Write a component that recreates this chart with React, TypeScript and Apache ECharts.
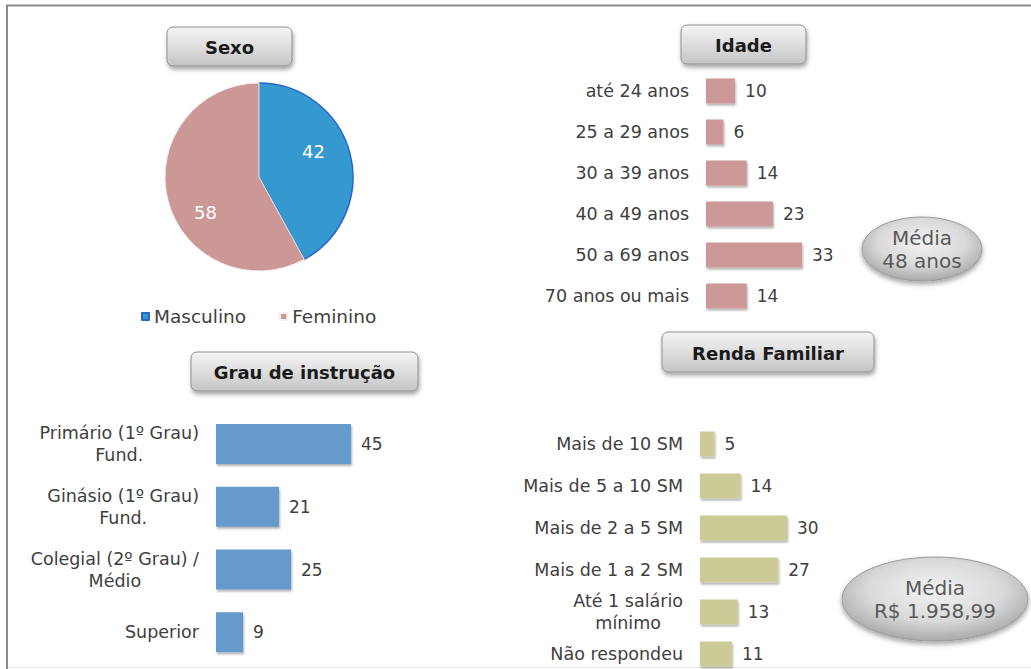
import React, { useEffect, useRef } from "react";
import * as echarts from "echarts";

const FONT = "'DejaVu Sans', Verdana, sans-serif";
const TXT = "#404040";

// Sexo
const sexoLabels = ["Masculino", "Feminino"];
const sexoValues = [42, 58];
const sexoColors = ["#3598cf", "#cc9896"];

// Idade
const idadeCats = ["até 24 anos", "25 a 29 anos", "30 a 39 anos", "40 a 49 anos", "50 a 69 anos", "70 anos ou mais"];
const idadeValues = [10, 6, 14, 23, 33, 14];

// Grau de instrução
const grauCats = ["Primário (1º Grau)\nFund.", "Ginásio (1º Grau)\nFund.", "Colegial (2º Grau) /\nMédio", "Superior"];
const grauValues = [45, 21, 25, 9];

// Renda Familiar
const rendaCats = ["Mais de 10 SM", "Mais de 5 a 10 SM", "Mais de 2 a 5 SM", "Mais de 1 a 2 SM", "Até 1 salário\nmínimo", "Não respondeu"];
const rendaValues = [5, 14, 30, 27, 13, 11];

const titles = [
  { text: "Sexo", x: 167, y: 27, w: 125, h: 39 },
  { text: "Idade", x: 681, y: 25, w: 125, h: 39 },
  { text: "Grau de instrução", x: 191, y: 352, w: 227, h: 39 },
  { text: "Renda Familiar", x: 662, y: 332, w: 212, h: 40 },
];

const medias = [
  { text: "Média\n48 anos", cx: 922, cy: 249, rx: 60, ry: 32 },
  { text: "Média\nR$ 1.958,99", cx: 935, cy: 599, rx: 93, ry: 42 },
];

function buttonGraphic(t: any) {
  return {
    type: "group",
    children: [
      {
        type: "rect",
        shape: { x: t.x, y: t.y, width: t.w, height: t.h, r: 6 },
        style: {
          fill: {
            type: "linear", x: 0, y: 0, x2: 0, y2: 1,
            colorStops: [
              { offset: 0, color: "#f4f4f4" },
              { offset: 0.5, color: "#dedede" },
              { offset: 1, color: "#c4c4c4" },
            ],
          },
          stroke: "#8f8f8f",
          lineWidth: 1,
          shadowBlur: 4,
          shadowOffsetY: 3,
          shadowOffsetX: 1,
          shadowColor: "rgba(0,0,0,0.35)",
        },
      },
      {
        type: "text",
        style: {
          text: t.text,
          x: t.x + t.w / 2,
          y: t.y + t.h / 2 + 1,
          align: "center",
          verticalAlign: "middle",
          font: `bold 18px ${FONT}`,
          fill: "#1a1a1a",
        },
      },
    ],
  };
}

function mediaGraphic(m: any) {
  return {
    type: "group",
    children: [
      {
        type: "ellipse",
        shape: { cx: m.cx, cy: m.cy, rx: m.rx, ry: m.ry },
        style: {
          fill: {
            type: "radial", x: 0.5, y: 0.4, r: 0.6,
            colorStops: [
              { offset: 0, color: "#f2f2f2" },
              { offset: 0.6, color: "#dadada" },
              { offset: 1, color: "#a9a9a9" },
            ],
          },
          stroke: "#9a9a9a",
          lineWidth: 1,
          shadowBlur: 5,
          shadowOffsetY: 3,
          shadowColor: "rgba(0,0,0,0.35)",
        },
      },
      {
        type: "text",
        style: {
          text: m.text,
          x: m.cx,
          y: m.cy,
          align: "center",
          verticalAlign: "middle",
          font: `20px ${FONT}`,
          lineHeight: 23,
          fill: "#595959",
        },
      },
    ],
  };
}

const barShadow = {
  shadowBlur: 2,
  shadowOffsetY: 2,
  shadowOffsetX: 1,
  shadowColor: "rgba(0,0,0,0.3)",
};

export default function App() {
  const ref = useRef<HTMLDivElement>(null);
  useEffect(() => {
    if (!ref.current) return;
    const chart = echarts.init(ref.current, null, { renderer: "svg" });

    const catAxis = (gridIndex: number, data: string[]) => ({
      type: "category",
      gridIndex,
      data,
      inverse: true,
      axisLine: { show: false },
      axisTick: { show: false },
      axisLabel: {
        margin: 17,
        fontFamily: FONT,
        fontSize: 17.5,
        color: TXT,
        lineHeight: 22,
        formatter: (v: string) => v.split("\n").map((l) => `{c|${l}}`).join("\n"),
        rich: { c: { align: "center", fontFamily: FONT, fontSize: 17.5, color: TXT, lineHeight: 22 } },
      },
    });
    const valAxis = (gridIndex: number, max: number) => ({
      type: "value",
      gridIndex,
      min: 0,
      max,
      show: false,
      splitLine: { show: false },
    });
    const barSeries = (idx: number, data: number[], color: string, barWidth: number) => ({
      type: "bar",
      xAxisIndex: idx,
      yAxisIndex: idx,
      data,
      barWidth,
      itemStyle: { color, ...barShadow },
      label: {
        show: true,
        position: "right",
        distance: 10,
        fontFamily: FONT,
        fontSize: 17,
        color: TXT,
      },
    });

    chart.setOption({
      animation: false,
      backgroundColor: "#ffffff",
      legend: {
        data: sexoLabels,
        left: 136,
        top: 302,
        icon: "rect",
        itemWidth: 7,
        itemHeight: 7,
        itemGap: 33,
        textStyle: { fontFamily: FONT, fontSize: 18.5, color: TXT },
      },
      grid: [
        { left: 706, top: 70.5, width: 145.5, height: 246 },
        { left: 216, top: 412.7, width: 180, height: 251 },
        { left: 700, top: 423, width: 145, height: 252 },
      ],
      xAxis: [valAxis(0, 50), valAxis(1, 60), valAxis(2, 50)],
      yAxis: [catAxis(0, idadeCats), catAxis(1, grauCats), catAxis(2, rendaCats)],
      series: [
        barSeries(0, idadeValues, "#cc9898", 25),
        barSeries(1, grauValues, "#6699cc", 40),
        barSeries(2, rendaValues, "#cccb98", 25),
        {
          type: "pie",
          center: [259, 177],
          radius: 94,
          startAngle: 90,
          clockwise: true,
          data: sexoLabels.map((name, i) => ({
            name,
            value: sexoValues[i],
            itemStyle: {
              color: sexoColors[i],
              borderColor: i === 0 ? "#2a66cc" : "#f4eeee",
              borderWidth: i === 0 ? 1.5 : 1,
            },
          })),
          label: {
            show: true,
            position: "inside",
            formatter: "{c}",
            fontFamily: FONT,
            fontSize: 18,
            color: "#ffffff",
          },
          labelLine: { show: false },
          labelLayout: (p: any) => (p.dataIndex === 0 ? { dx: 6, dy: -13 } : { dx: -5, dy: 23 }),
          emphasis: { disabled: true },
        },
      ],
      graphic: [
        { type: "line", shape: { x1: 6, y1: 5.5, x2: 1031, y2: 5.5 }, style: { stroke: "#8a8a8a", lineWidth: 2 } },
        { type: "line", shape: { x1: 7, y1: 5, x2: 7, y2: 669 }, style: { stroke: "#8a8a8a", lineWidth: 2 } },
        { type: "line", shape: { x1: 8, y1: 667.5, x2: 1031, y2: 667.5 }, style: { stroke: "#e6e6e6", lineWidth: 1 } },
        ...titles.map(buttonGraphic),
        ...medias.map(mediaGraphic),
      ],
    });
    return () => chart.dispose();
  }, []);
  return (
    <div style={{ position: "absolute", left: 0, top: 0, width: 1031, height: 669, overflow: "hidden" }}>
      <div ref={ref} style={{ position: "absolute", left: 0, top: 0, width: 1031, height: 690 }} />
    </div>
  );
}
